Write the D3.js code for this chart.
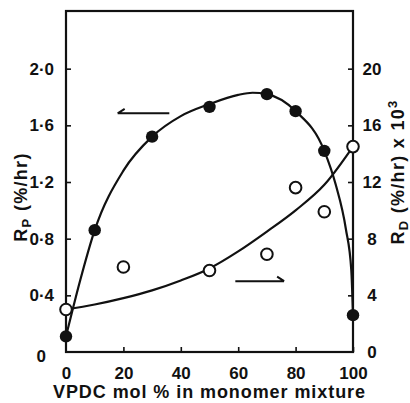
<!DOCTYPE html>
<html>
<head>
<meta charset="utf-8">
<script src="https://cdn.jsdelivr.net/npm/d3@7/dist/d3.min.js"></script>
<style>
  html, body { margin: 0; padding: 0; background: #fff; }
  svg text { font-family: "Liberation Sans", Arial, sans-serif; font-weight: bold; fill: #111; }
</style>
</head>
<body>
<svg id="chart" width="410" height="403"></svg>
<script>
// VPDC content of the monomer mixture (mol %)
const vpdc = [0, 10, 30, 50, 70, 80, 90, 100];
// Rate of polymerisation Rp (%/hr), left axis
const rp = [0.11, 0.86, 1.52, 1.73, 1.82, 1.70, 1.42, 0.26];

const vpdcD = [0, 20, 50, 70, 80, 90, 100];
// Rate Rd (%/hr) x 10^3, right axis
const rd = [3.0, 6.0, 5.75, 6.9, 11.6, 9.9, 14.5];

// Smoothed trend lines drawn through the data
const rpFitX = [0, 5, 10, 20, 30, 40, 50, 60, 65, 70, 80, 90, 94, 97.5, 99.4, 100];
const rpFit  = [0.11, 0.51, 0.86, 1.28, 1.52, 1.665, 1.75, 1.815, 1.83, 1.82, 1.70, 1.42, 1.18, 0.87, 0.58, 0.26];
const rdFitX = [0, 10, 20, 30, 40, 50, 60, 70, 80, 90, 100];
const rdFit  = [3.0, 3.35, 3.8, 4.35, 5.05, 5.9, 7.1, 8.5, 10.0, 11.8, 14.5];

const xTicks = [0, 20, 40, 60, 80, 100];
const leftTicks = [0, 0.4, 0.8, 1.2, 1.6, 2.0];
const rightTicks = [0, 4, 8, 12, 16, 20];

const svg = d3.select("#chart");
const L = 66, R = 353, T = 11, B = 352;

const x = d3.scaleLinear().domain([0, 100]).range([L, R]);
const yL = d3.scaleLinear().domain([0, 2.4]).range([B, 12]);
const yR = d3.scaleLinear().domain([0, 24]).range([B, 12]);

const fmtL = d => d === 0 ? "0" : d3.format(".1f")(d).replace(".", "\u00b7");

// axes with inward ticks
const gx = svg.append("g").attr("transform", `translate(0,${B})`)
  .call(d3.axisBottom(x).tickValues(xTicks).tickSizeInner(-5).tickSizeOuter(0).tickPadding(15));
const gl = svg.append("g").attr("transform", `translate(${L},0)`)
  .call(d3.axisLeft(yL).tickValues(leftTicks).tickSizeInner(-5).tickSizeOuter(0).tickPadding(12).tickFormat(fmtL));
const gr = svg.append("g").attr("transform", `translate(${R},0)`)
  .call(d3.axisRight(yR).tickValues(rightTicks).tickSizeInner(-5).tickSizeOuter(0).tickPadding(19));

[gx, gl, gr].forEach(g => {
  g.select(".domain").remove();
  g.selectAll("line").attr("stroke", "#111").attr("stroke-width", 1.6);
  g.selectAll("text").attr("font-size", 17).attr("fill", "#111")
    .attr("font-family", "'Liberation Sans', Arial, sans-serif").attr("font-weight", "bold");
  g.selectAll(".tick").filter(d => d === 0).select("line").remove();
});
gr.selectAll("text").attr("text-anchor", "middle");
// the origin label on the left axis sits a little lower and further out
gl.selectAll(".tick").filter(d => d === 0).select("text").attr("dx", -8).attr("dy", "0.55em");

// plot frame
svg.append("rect").attr("x", L).attr("y", T).attr("width", R - L).attr("height", B - T)
  .attr("fill", "none").attr("stroke", "#111").attr("stroke-width", 2.2);

// trend curves
const lineL = d3.line().x((d, i) => x(rpFitX[i])).y(d => yL(d)).curve(d3.curveMonotoneX);
const lineR = d3.line().x((d, i) => x(rdFitX[i])).y(d => yR(d)).curve(d3.curveMonotoneX);
svg.append("path").attr("d", lineL(rpFit)).attr("fill", "none").attr("stroke", "#111").attr("stroke-width", 2.2);
svg.append("path").attr("d", lineR(rdFit)).attr("fill", "none").attr("stroke", "#111").attr("stroke-width", 2.2);

// Rd points (open)
svg.selectAll("circle.rd").data(rd).join("circle").attr("class", "rd")
  .attr("cx", (d, i) => x(vpdcD[i])).attr("cy", d => yR(d)).attr("r", 5.8)
  .attr("fill", "#fff").attr("stroke", "#111").attr("stroke-width", 2);

// Rp points (filled)
svg.selectAll("circle.rp").data(rp).join("circle").attr("class", "rp")
  .attr("cx", (d, i) => x(vpdc[i])).attr("cy", d => yL(d)).attr("r", 6.2)
  .attr("fill", "#111");

// half-headed arrows pointing to the axis each curve belongs to
const arrow = (x0, x1, yv, dir) => {
  const tip = dir < 0 ? x0 : x1;
  return `M${x0},${yv}H${x1}M${tip},${yv}L${tip - dir * 7},${yv - 4.5}`;
};
svg.append("path").attr("d", arrow(x(18), x(36), yL(1.685), -1))
  .attr("fill", "none").attr("stroke", "#111").attr("stroke-width", 2);
svg.append("path").attr("d", arrow(x(59), x(76), yR(5.0), 1))
  .attr("fill", "none").attr("stroke", "#111").attr("stroke-width", 2);

// axis titles
svg.append("text").attr("x", (L + R) / 2 - 0.5).attr("y", 398).attr("text-anchor", "middle")
  .attr("font-size", 18).attr("textLength", 312).attr("lengthAdjust", "spacing")
  .text("VPDC mol % in monomer mixture");

const tl = svg.append("text").attr("transform", "translate(27,197) rotate(-90)")
  .attr("text-anchor", "middle").attr("font-size", 18).attr("letter-spacing", 1.3);
tl.append("tspan").text("R");
tl.append("tspan").attr("font-size", 13).attr("dy", 4).text("P");
tl.append("tspan").attr("dy", -4).text(" (%/hr)");

const tr = svg.append("text").attr("transform", "translate(404,172) rotate(-90)")
  .attr("text-anchor", "middle").attr("font-size", 18).attr("letter-spacing", 1.3);
tr.append("tspan").text("R");
tr.append("tspan").attr("font-size", 13).attr("dy", 4).text("D");
tr.append("tspan").attr("dy", -4).text(" (%/hr) x 10");
tr.append("tspan").attr("font-size", 13).attr("dy", -7).text("3");
</script>
</body>
</html>
